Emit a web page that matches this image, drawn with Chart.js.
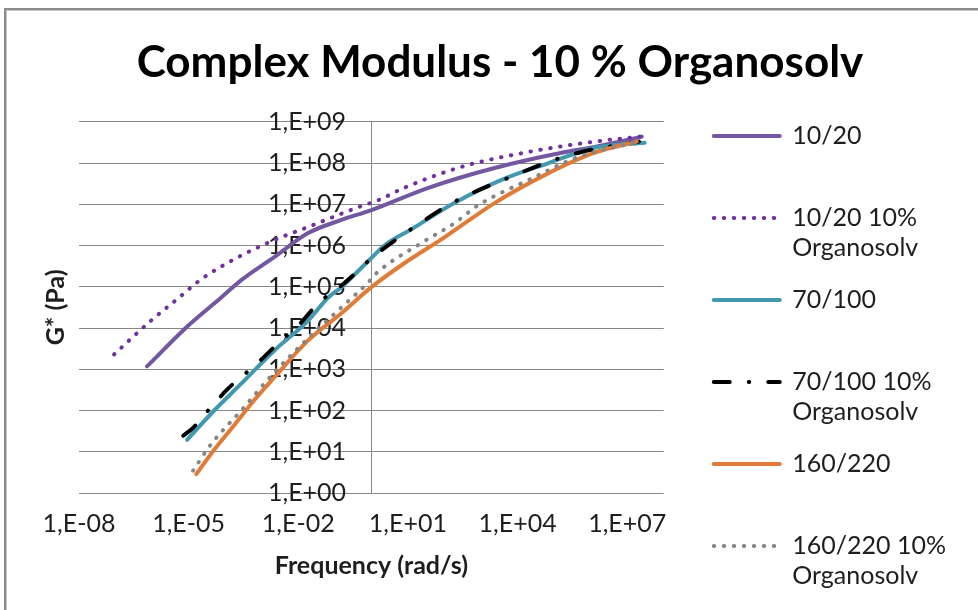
<!DOCTYPE html>
<html>
<head>
<meta charset="utf-8">
<script src="https://cdn.jsdelivr.net/npm/chart.js@4.4.1/dist/chart.umd.min.js"></script>
<style>
  html, body { margin: 0; padding: 0; background: #ffffff; overflow: hidden; }
  #frame { position: absolute; left: 4px; top: 8px; width: 1200px; height: 900px;
           border-left: 2px solid #8a8a8a; border-top: 2px solid #8a8a8a;
           box-shadow: inset 1px 1px 0 #c9c9c9; }
  #wrap { position: absolute; left: 0; top: 0; width: 978px; height: 610px; }
</style>
</head>
<body>
<div id="frame"></div>
<div id="wrap"><canvas id="chart" width="978" height="610"></canvas></div>
<script>
// ---------------- data ----------------
const chartTitle = 'Complex Modulus - 10 % Organosolv';
const xAxisTitle = 'Frequency (rad/s)';
const yAxisTitle = 'G* (Pa)';

const seriesNames = ['10/20', '10/20 10% Organosolv', '70/100', '70/100 10% Organosolv', '160/220', '160/220 10% Organosolv'];
const legendLines = [['10/20', ''], ['10/20 10%', 'Organosolv'], ['70/100', ''], ['70/100 10%', 'Organosolv'], ['160/220', ''], ['160/220 10%', 'Organosolv']];

const xTickValues = [1e-8, 1e-5, 1e-2, 1e1, 1e4, 1e7];
const xTickLabels = ['1,E-08', '1,E-05', '1,E-02', '1,E+01', '1,E+04', '1,E+07'];
const yTickValues = [1, 1e1, 1e2, 1e3, 1e4, 1e5, 1e6, 1e7, 1e8, 1e9];
const yTickLabels = ['1,E+00', '1,E+01', '1,E+02', '1,E+03', '1,E+04', '1,E+05', '1,E+06', '1,E+07', '1,E+08', '1,E+09'];

// 10/20
const freq1020 = [7.24e-7, 9.8e-6, 7.8e-5, 2.75e-4, 2.19e-3, 1.86e-2, 0.151, 1.0, 36.3, 2340, 1.62e5, 1.29e6, 2.5e7];
const g1020    = [1175, 1.15e4, 5.5e4, 1.45e5, 5.25e5, 2.0e6, 4.17e6, 7.24e6, 2.51e7, 7.59e7, 1.78e8, 2.45e8, 4.37e8];
// 10/20 10% Organosolv
const freq1020o = [9.1e-8, 9.3e-7, 5.5e-6, 2.19e-5, 2.29e-4, 2.19e-3, 1.86e-2, 0.437, 1.55, 7.94, 295, 2.0e4, 1.29e6, 2.19e7];
const g1020o    = [2290, 1.51e4, 5.5e4, 1.51e5, 5.25e5, 1.35e6, 2.82e6, 8.5e6, 1.26e7, 2.51e7, 8.1e7, 1.86e8, 3.31e8, 4.37e8];
// 70/100
const freq70 = [9.1e-6, 5.0e-5, 2.75e-4, 2.19e-3, 1.86e-2, 6.6e-2, 0.151, 1.0, 2.27, 12.6, 186, 3630, 7.1e4, 1.29e6, 3.0e7];
const g70    = [19.5, 100, 447, 2820, 1.51e4, 5.5e4, 9.8e4, 5.0e5, 1.0e6, 2.5e6, 1.07e7, 3.89e7, 1.0e8, 2.34e8, 3.09e8];
// 70/100 10% Organosolv
const freq70o = [7.1e-6, 1.32e-5, 3.39e-5, 1.2e-4, 7.9e-4, 3.39e-3, 1.0e-2, 3.55e-2, 0.182, 1.2, 15.1, 186, 5620, 1.02e5, 5.6e5, 2.09e7];
const g70o    = [24.5, 38, 100, 339, 1450, 5010, 1.15e4, 3.98e4, 1.23e5, 5.6e5, 2.82e6, 1.15e7, 4.37e7, 1.2e8, 1.86e8, 3.31e8];
// 160/220
const freq160 = [1.62e-5, 5.0e-5, 1.78e-4, 6.2e-4, 2.19e-3, 1.86e-2, 0.151, 1.0, 7.94, 100, 2340, 5.5e4, 1.29e6, 1.82e7];
const g160    = [2.88, 11.2, 44.7, 178, 631, 5010, 2.29e4, 9.8e4, 3.72e5, 1.58e6, 1.07e7, 5.1e7, 1.78e8, 3.31e8];
// 160/220 10% Organosolv
const freq160o = [1.32e-5, 4.17e-5, 2.75e-4, 2.19e-3, 1.86e-2, 0.151, 0.83, 1.38, 23.4, 186, 851, 2.0e4, 4.68e5, 2.09e7];
const g160o    = [3.47, 15.5, 100, 832, 5620, 3.16e4, 1.29e5, 2.14e5, 1.15e6, 3.47e6, 9.55e6, 3.89e7, 1.41e8, 3.31e8];

// ---------------- styles ----------------
const FONT = "Lato, 'Open Sans', 'DejaVu Sans', sans-serif";
const TEXT = '#1e1e1e';
const GRID = '#878787';
const seriesStyles = [
  { color: '#7357A0', dash: [] },
  { color: '#7030A0', dash: [0.5, 9.5] },
  { color: '#4198AF', dash: [] },
  { color: '#000000', dash: [16, 19, 0.5, 19] },
  { color: '#E07C37', dash: [] },
  { color: '#868686', dash: [0.5, 9.5] }
];

const seriesData = [[freq1020, g1020], [freq1020o, g1020o], [freq70, g70], [freq70o, g70o], [freq160, g160], [freq160o, g160o]];
const toPoints = (xs, ys) => xs.map((x, i) => ({ x: x, y: ys[i] }));

const datasets = seriesNames.map((name, i) => ({
  label: name,
  data: toPoints(seriesData[i][0], seriesData[i][1]),
  borderColor: seriesStyles[i].color,
  backgroundColor: seriesStyles[i].color,
  borderWidth: 4,
  borderDash: seriesStyles[i].dash,
  borderCapStyle: 'round',
  borderJoinStyle: 'round',
  pointRadius: 0,
  cubicInterpolationMode: 'monotone',
  fill: false,
  order: seriesNames.length - i
}));

Chart.defaults.font.family = FONT;
Chart.defaults.color = TEXT;

new Chart(document.getElementById('chart'), {
  type: 'line',
  data: { datasets: datasets },
  options: {
    responsive: false,
    animation: false,
    devicePixelRatio: 1,
    layout: { padding: { left: 44, right: 22, top: 0, bottom: -107 } },
    plugins: {
      tooltip: { enabled: false },
      title: {
        display: true,
        text: chartTitle,
        color: '#000',
        font: { family: FONT, size: 44, weight: 'bold', lineHeight: 1.2 },
        padding: { top: 36, bottom: 33 }
      },
      legend: {
        display: true,
        position: 'right',
        align: 'center',
        fullSize: true,
        maxWidth: 320,
        labels: {
          usePointStyle: true,
          pointStyle: 'line',
          pointStyleWidth: 66,
          padding: 22,
          color: TEXT,
          font: { family: FONT, size: 25, lineHeight: 1.2 },
          sort: (a, b) => a.datasetIndex - b.datasetIndex,
          generateLabels: (chart) => chart.data.datasets.map((ds, i) => ({
            text: legendLines[i],
            datasetIndex: i,
            fillStyle: ds.borderColor,
            strokeStyle: ds.borderColor,
            lineWidth: ds.borderWidth,
            lineDash: ds.borderDash,
            lineCap: 'round',
            lineJoin: 'round',
            pointStyle: 'line',
            fontColor: TEXT,
            hidden: false
          }))
        }
      }
    },
    scales: {
      x: {
        type: 'logarithmic',
        position: 'bottom',
        min: 1e-8,
        max: 1e8,
        afterBuildTicks: (s) => { s.ticks = xTickValues.map(v => ({ value: v })); },
        ticks: {
          callback: (v, i) => xTickLabels[i],
          autoSkip: false, maxRotation: 0, minRotation: 0,
          padding: 16,
          color: TEXT,
          font: { family: FONT, size: 25, lineHeight: 1.2 }
        },
        grid: { display: false, drawTicks: false },
        border: { display: false },
        title: {
          display: true, text: xAxisTitle, color: TEXT,
          font: { family: FONT, size: 25, weight: 'bold', lineHeight: 1.2 },
          padding: { top: -4, bottom: 136 }
        }
      },
      y: {
        type: 'logarithmic',
        position: { x: 1 },
        min: 1,
        max: 1e9,
        afterBuildTicks: (s) => { s.ticks = yTickValues.map(v => ({ value: v })); },
        afterFit: (s) => { s.width = 0; },
        ticks: {
          callback: (v, i) => yTickLabels[i] + '\u2002  ',
          autoSkip: false,
          padding: 0,
          color: TEXT,
          font: { family: FONT, size: 25, lineHeight: 1.2 }
        },
        grid: { color: GRID, lineWidth: 1, drawTicks: false },
        border: { display: true, color: GRID, width: 1 }
      },
      yTitle: {
        type: 'linear',
        position: 'left',
        display: true,
        afterFit: (s) => { s.width = 35; },
        grid: { display: false, drawTicks: false },
        border: { display: false },
        ticks: { display: false },
        title: {
          display: true, text: yAxisTitle, color: TEXT,
          font: { family: FONT, size: 25, weight: 'bold', lineHeight: 1.2 },
          padding: { top: -3, bottom: 0 }
        }
      },
      rSpacer: {
        type: 'linear',
        position: 'right',
        display: true,
        afterFit: (s) => { s.width = 28; },
        grid: { display: false, drawTicks: false },
        border: { display: false },
        ticks: { display: false }
      }
    }
  }
});
</script>
</body>
</html>
